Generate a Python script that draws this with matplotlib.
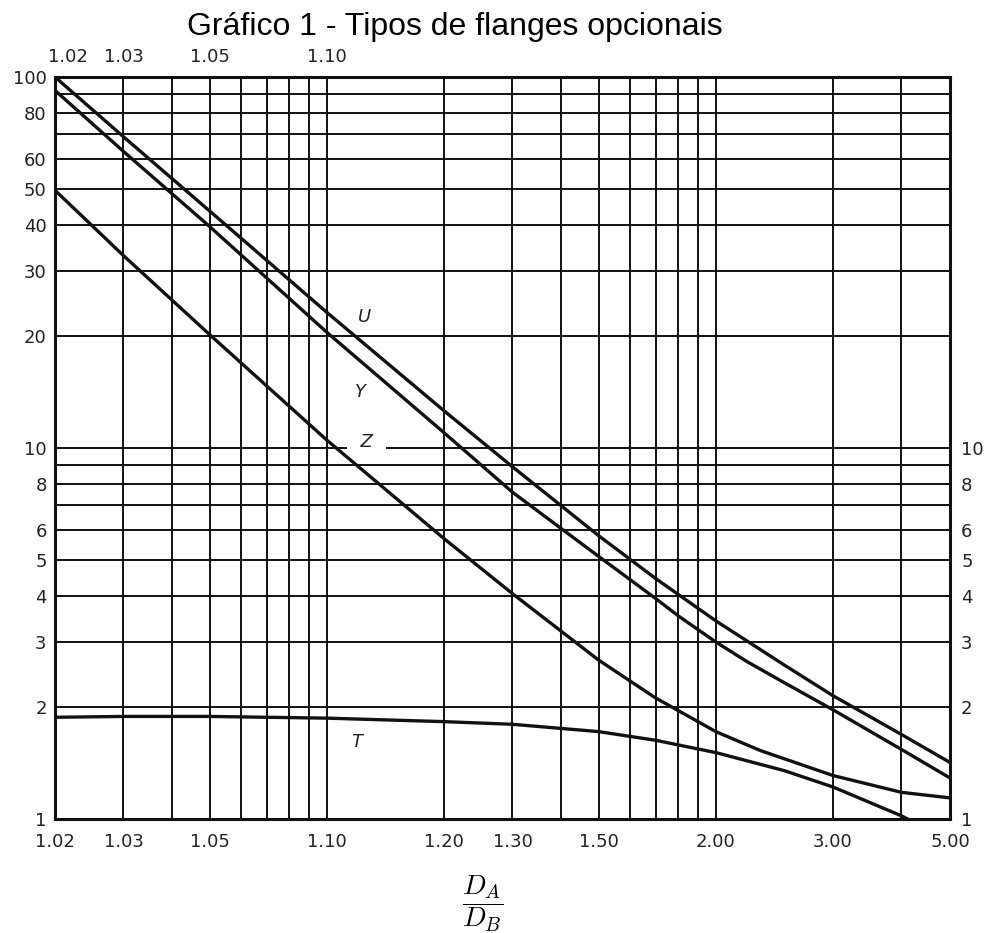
import numpy as np
import matplotlib.pyplot as plt
from matplotlib.ticker import NullLocator
from matplotlib.transforms import ScaledTranslation

plt.rcParams['font.family'] = ['DejaVu Sans']
plt.rcParams['mathtext.fontset'] = 'cm'

# --- Data -----------------------------------------------------------

k_u = [1.02, 1.03, 1.05, 1.10, 1.20, 1.30, 1.50, 1.70, 2.00, 2.50, 3.00, 4.00, 5.00]
u_vals = [100, 69, 43.5, 23.2, 12.6, 8.9, 5.8, 4.45, 3.42, 2.6, 2.15, 1.69, 1.42]

k_y = [1.02, 1.03, 1.05, 1.10, 1.20, 1.30, 1.50, 1.70, 1.80, 2.00, 2.20, 2.50, 3.00, 4.00, 5.00]
y_vals = [92, 63, 39.5, 20.5, 11.0, 7.6, 5.1, 3.93, 3.53, 3.0, 2.66, 2.33, 1.97, 1.54, 1.29]

k_z = [1.02, 1.03, 1.05, 1.10, 1.20, 1.30, 1.50, 1.70, 2.00, 2.30, 3.00, 4.00, 5.00]
z_vals = [49.5, 33, 20.2, 10.5, 5.7, 4.05, 2.68, 2.12, 1.72, 1.53, 1.31, 1.18, 1.14]

k_t = [1.02, 1.03, 1.05, 1.10, 1.20, 1.30, 1.50, 1.70, 2.00, 2.50, 3.00, 4.00, 4.20]
t_vals = [1.88, 1.89, 1.89, 1.87, 1.83, 1.80, 1.72, 1.63, 1.51, 1.35, 1.22, 1.02, 0.985]

# grid / ticks
x_ticks = [1.02, 1.03, 1.04, 1.05, 1.06, 1.07, 1.08, 1.09, 1.10,
           1.20, 1.30, 1.40, 1.50, 1.60, 1.70, 1.80, 1.90, 2.00,
           3.00, 4.00, 5.00]
x_bottom_labels = ["1.02", "1.03", "", "1.05", "", "", "", "", "1.10",
                   "1.20", "1.30", "", "1.50", "", "", "", "", "2.00",
                   "3.00", "", "5.00"]
x_top_ticks = [1.02, 1.03, 1.05, 1.10]
x_top_labels = ["1.02", "1.03", "1.05", "1.10"]

y_ticks = [1, 2, 3, 4, 5, 6, 7, 8, 9, 10, 20, 30, 40, 50, 60, 70, 80, 90, 100]
y_left_labels = ["1", "2", "3", "4", "5", "6", "", "8", "", "10",
                 "20", "30", "40", "50", "60", "", "80", "", "100"]
y_right_ticks = [1, 2, 3, 4, 5, 6, 8, 10]
y_right_labels = ["1", "2", "3", "4", "5", "6", "8", "10"]

# curve labels (K, value)
curve_labels = {"U": (1.1253, 22.5), "Y": (1.1216, 14.2),
                "Z": (1.1268, 10.4), "T": (1.1194, 1.61)}


# --- Scale: log10(K - 1) --------------------------------------------

def fwd(k):
    with np.errstate(divide="ignore", invalid="ignore"):
        return np.log10(np.asarray(k, dtype=float) - 1)

def inv(u):
    return 1 + 10 ** np.asarray(u, dtype=float)


# --- Plot -----------------------------------------------------------

fig = plt.figure(figsize=(9.87, 9.33), dpi=100)
ax = fig.add_axes([55/987, 1 - 819/933, 895/987, 742/933])

ax.set_xscale("function", functions=(fwd, inv))
ax.set_yscale("log")
ax.set_xlim(1.02, 5.00)
ax.set_ylim(1, 100)

ax.set_xticks(x_ticks)
ax.set_xticklabels(x_bottom_labels)
ax.set_yticks(y_ticks)
ax.set_yticklabels(y_left_labels)
ax.xaxis.set_minor_locator(NullLocator())
ax.yaxis.set_minor_locator(NullLocator())
ax.grid(True, color="#111111", lw=1.4)
ax.set_axisbelow(True)
ax.tick_params(axis="x", length=0, pad=10, labelsize=13, labelcolor="#222222")
ax.tick_params(axis="y", length=0, pad=6, labelsize=13, labelcolor="#222222")

for kk, vals in [(k_u, u_vals), (k_y, y_vals), (k_z, z_vals), (k_t, t_vals)]:
    ax.plot(kk, vals, color="#111111", lw=2.4, zorder=3, solid_joinstyle="round")

for name, (kx, vy) in curve_labels.items():
    bbox = None
    txt = name
    if name == "Z":
        # the 10 line is broken around the Z label
        txt = "  Z  "
        bbox = dict(boxstyle="square,pad=0.1", fc="white", ec="none")
    ax.text(kx, vy, txt, style="italic", fontsize=13, ha="center", va="center",
            color="#222222", bbox=bbox, zorder=2.5)

for s in ax.spines.values():
    s.set_linewidth(2.2)
    s.set_color("#111111")

# top axis
top = ax.twiny()
top.set_xscale("function", functions=(fwd, inv))
top.set_xlim(ax.get_xlim())
top.set_xticks(x_top_ticks)
top.set_xticklabels(x_top_labels)
top.xaxis.set_minor_locator(NullLocator())
top.tick_params(axis="x", length=0, pad=8, labelsize=13, labelcolor="#222222")
shift = ScaledTranslation(13/100, 0, fig.dpi_scale_trans)
lbl0 = top.get_xticklabels()[0]
lbl0.set_transform(lbl0.get_transform() + shift)

# right axis
right = ax.twinx()
right.set_yscale("log")
right.set_ylim(ax.get_ylim())
right.set_yticks(y_right_ticks)
right.set_yticklabels(y_right_labels)
right.yaxis.set_minor_locator(NullLocator())
right.tick_params(axis="y", length=0, pad=8, labelsize=13, labelcolor="#222222")
for a in (top, right):
    for s in a.spines.values():
        s.set_visible(False)

fig.text(455/987, 1 - 27/933, "Gráfico 1 - Tipos de flanges opcionais",
         fontsize=23, family="Liberation Sans", ha="center", va="center")
fig.text(483/987, 1 - 904/933, r"$\dfrac{D_A}{D_B}$", fontsize=20,
         ha="center", va="center")

fig.savefig("out.png", dpi=100)
